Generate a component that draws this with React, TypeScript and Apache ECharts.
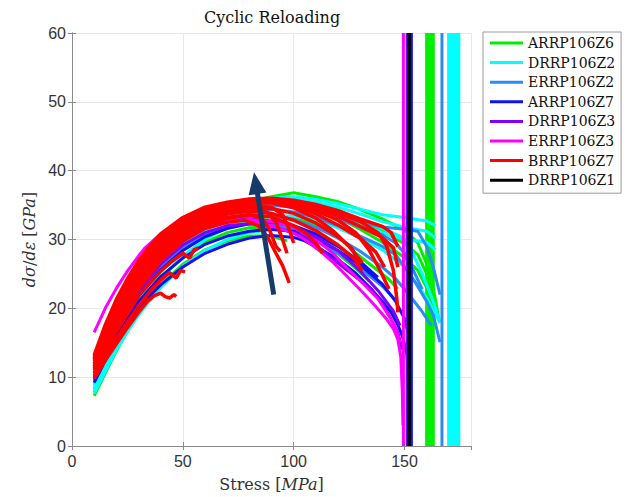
import React, { useEffect, useRef } from 'react';
import * as echarts from 'echarts';

// ---------- data ----------
const specimenNames = ['ARRP106Z6', 'DRRP106Z2', 'ERRP106Z2', 'ARRP106Z7', 'DRRP106Z3', 'ERRP106Z3', 'BRRP106Z7', 'DRRP106Z1'];
const xTickValues = [0, 50, 100, 150];
const yTickValues = [0, 10, 20, 30, 40, 50, 60];

// reload curves [stress MPa, dσ/dε GPa]
const curvesARRP106Z6 = [
  [[10,7.3],[15,10.6],[20,13.8],[25,16.7],[30,19.3],[35,21.5],[40,23.4],[50,26.4],[60,28.5],[70,29.8],[80,30.5],[90,30.5],[97,29.8]],
  [[10,7.8],[15,11.2],[20,14.5],[30,20.3],[40,24.4],[50,27.5],[60,29.6],[70,31],[80,31.7],[90,31.8],[100,31.2],[110,29.8],[120,27.9],[128,25.8],[134,24]],
  [[10,8.3],[20,15.3],[30,21.2],[40,25.3],[50,28.4],[60,30.5],[70,32],[80,32.9],[90,33.3],[100,33.1],[110,32.2],[120,30.6],[128,28],[136,26],[143,24.2],[147,22.8]],
  [[10,8.8],[20,16],[30,22],[40,26.3],[50,29.5],[60,31.8],[70,33.4],[80,34.4],[90,35],[100,35],[110,34.4],[120,33.2],[130,31.5],[140,29.6],[150,27.4],[156,25.5],[160,23],[163,20]],
  [[10,9],[20,16.4],[30,22.5],[40,26.8],[50,30],[60,32.3],[70,33.9],[80,35],[90,35.6],[100,35.9],[110,35.3],[120,34.3],[130,32.8],[140,31.2],[150,29.4],[156,27.8],[160,25],[164,21]],
  [[10,9.3],[20,16.8],[30,22.9],[40,27.3],[50,30.5],[60,32.8],[70,34.4],[80,35.5],[90,36.2],[100,36.8],[110,36.2],[120,35.5],[128,34.6],[140,33],[150,31.4],[156,29.5],[160,26.5],[163,23],[165.5,18.4]],
];
const curvesDRRP106Z2 = [
  [[10,7.6],[15,10.8],[20,13.9],[25,16.6],[30,19],[35,21.1],[40,23],[50,26.1],[60,28.4],[70,30],[80,31],[90,31.4],[100,31.2],[110,30.4],[120,29],[126,27.6]],
  [[10,8.1],[20,14.6],[30,20.2],[40,24.3],[50,27.6],[60,30],[70,31.8],[80,32.9],[90,33.4],[100,33.4],[110,32.8],[120,31.7],[130,30.2],[140,28.5],[150,26],[153,24.7],[160,21.5],[166,17.9]],
  [[10,8.6],[20,15.3],[30,21],[40,25.3],[50,28.6],[60,31.2],[70,33],[80,34.1],[90,34.8],[100,35],[110,34.5],[120,33.5],[130,32.3],[140,31],[150,30],[160,29.6],[164,28.5]],
  [[10,8.8],[20,15.7],[30,21.4],[40,25.7],[50,29],[60,31.6],[70,33.4],[80,34.5],[90,35.1],[100,35.3],[110,34.9],[120,34],[130,32.9],[140,31.6],[148,30.5],[153,28.5],[158,25],[163,21],[166,18]],
  [[10,9],[20,16],[30,21.8],[40,26.2],[50,29.6],[60,32.2],[70,34],[80,35.1],[90,35.6],[100,35.8],[110,35.4],[120,34.7],[130,33.7],[140,32.6],[150,31.8],[160,31.2],[164,30.2]],
  [[10,9.5],[20,16.6],[30,22.5],[40,27],[50,30.3],[60,32.8],[70,34.5],[80,35.6],[90,36],[100,36.2],[110,35.8],[120,35.2],[130,34.4],[140,33.6],[150,33.2],[160,32.7],[164,32]],
];
const curvesERRP106Z2 = [
  [[10,9.9],[20,16.4],[30,21.8],[40,25.8],[50,28.8],[60,30.8],[70,31.9],[80,32.3],[90,32.2],[100,31.5],[110,30],[120,28],[130,25.8],[140,23.2],[146,21.2]],
  [[10,10.3],[20,17],[30,22.6],[40,26.7],[50,29.7],[60,31.7],[70,32.9],[80,33.4],[90,33.4],[100,32.9],[110,31.8],[120,30.2],[130,28.3],[140,26],[146,24.3],[152,22],[158,19.5],[162,17.5]],
  [[10,10.7],[20,17.5],[30,23.2],[40,27.4],[50,30.4],[60,32.4],[70,33.7],[80,34.3],[90,34.4],[100,34],[110,33.2],[120,32],[130,30.5],[140,29],[146,27.8],[150,26],[155,23.7],[160,21],[163,19],[166,15.1]],
  [[10,11.1],[20,18],[30,23.7],[40,28],[50,31],[60,33],[70,34.2],[80,34.8],[90,35],[100,34.7],[110,34],[120,33],[130,31.8],[140,30.7],[146,29.5],[150,28],[154,25.5],[158,22.8]],
  [[10,11.4],[20,18.4],[30,24],[40,28.3],[50,31.3],[60,33.3],[70,34.5],[80,35.1],[90,35.3],[100,35.1],[110,34.5],[120,33.6],[130,32.6],[140,31.8],[150,31.5],[156,31.2],[160,29],[163,26],[166,22]],
];
const curvesARRP106Z7 = [
  [[10,9.2],[15,12.4],[20,15.2],[25,17.7],[30,19.9],[35,21.8],[40,23.4],[50,26],[60,28],[70,29.3],[80,30.2],[90,30.6],[100,30.3],[105,29.8],[112,28.6],[120,27.1],[128,25.1],[135,22.8],[140,21],[144,19.4],[147,17.6],[149,16],[151,13.5],[152.5,9]],
  [[10,9.6],[20,16],[30,21],[40,24.6],[50,27.3],[60,29.3],[70,30.5],[80,31.2],[90,31.5],[100,31.2],[110,30.1],[120,28.4],[130,26.3],[140,23.5],[146,21],[150,18.5],[152,16]],
  [[10,10],[20,16.6],[30,21.8],[40,25.6],[50,28.4],[60,30.4],[70,31.6],[80,32.3],[90,32.5],[100,32],[110,30.8],[120,29],[130,26.8],[138,24.5]],
];
const curvesDRRP106Z3 = [
  [[10,10.2],[20,17],[30,22.4],[40,26.4],[50,29.2],[60,31],[70,32],[80,32.3],[90,32],[100,31],[108,29.8],[116,27.6],[125,25.3],[135,22.8],[140,20.7],[144,18.4],[147,16.5],[149,14]],
  [[10,10.6],[20,17.5],[30,23],[40,27],[50,29.9],[60,31.7],[70,32.7],[80,33],[90,32.7],[100,31.9],[110,30.4],[120,28.4],[129.5,25.6],[138,22.6],[145,19.6],[148,17.5]],
];
const curvesERRP106Z3 = [
  [[10,12.3],[20,19.2],[30,24.3],[40,27.8],[50,30.3],[60,31.8],[70,32.6],[80,32.9],[90,32.6],[100,31.8],[104,31],[112,29.5],[118,27.9],[124,25.9],[132,23.4],[138,21.4],[143,18.9],[146,17.3],[148,15]],
  [[10,16.5],[15,20],[20,22.9],[25,25.4],[30,27.6],[33,28.8],[40,30.8],[50,32.2],[60,32.8],[70,33],[80,32.7],[90,32],[100,30.9],[105,30],[112,28.3],[118,26.6],[123,25],[130,22.7],[135,21],[138,19.9],[142,18.4],[145,17],[147,15.5],[148.3,13],[149,8],[149.3,3]],
];
const curvesBRRP106Z7 = [
  [[10,9.8],[15,12.4],[20,14.8],[25,17.2],[30,19.4],[34,21],[37,21.8],[40,22.2],[42,21.7],[44,21.5],[46,22],[47,21.7]],
  [[10,10.2],[15,13],[20,15.6],[25,18],[30,20.3],[35,22.4],[40,24.1],[44,25.2],[47,24.4],[49,25.5],[51,25.3]],
  [[10,10.6],[20,16.6],[30,21.8],[40,25.4],[45,26.8],[50,28],[53,27.3],[55,28.5],[57,28.8]],
  [[10,11],[20,17.4],[30,22.8],[40,26.9],[50,29.8],[60,31.6],[70,32.5],[78,32.8],[84,32],[88,30.5],[92,28],[95,26.2],[98,23.7]],
  [[10,11.2],[20,17.8],[30,23.2],[40,27.3],[50,30.2],[60,32],[70,33.1],[80,33.6],[90,33.3],[100,32],[106,30.8],[110,29.5],[113,28]],
  [[10,11.3],[20,17.9],[30,23.4],[40,27.5],[50,30.4],[60,32.2],[70,33.2],[80,33.6],[86,33],[89,31.5],[92,29],[94,28.3]],
  [[10,11.5],[20,18.2],[30,23.8],[40,27.9],[50,30.8],[60,32.6],[70,33.7],[80,34.1],[90,33.8],[100,32.8],[110,31.3],[120,29.2],[127,27.3],[131,25.5]],
  [[10,11.6],[20,18.4],[30,24],[40,28.1],[50,31],[60,32.8],[70,33.8],[80,34.2],[88,34],[92,32.5],[95,30],[97,28]],
  [[10,11.8],[20,18.7],[30,24.3],[40,28.4],[50,31.3],[60,33.1],[70,34.1],[80,34.6],[90,34.5],[100,33.8],[110,32.4],[120,30.4],[126,28.8],[130,26.5]],
  [[10,12],[20,18.9],[30,24.5],[40,28.7],[50,31.6],[60,33.4],[70,34.4],[80,34.9],[90,34.7],[95,33.6],[98,31.5],[100,29.5]],
  [[10,12.3],[20,19.4],[30,25],[40,29.2],[50,32],[60,33.8],[70,34.8],[80,35.3],[90,35.3],[100,34.6],[110,33.1],[118,31.2],[125,29],[131,26.6]],
  [[10,12.5],[20,19.8],[30,25.3],[40,29.5],[50,32.3],[60,34],[70,35],[80,35.5],[90,35.5],[100,34.9],[110,33.7],[120,32.1],[130,30.2],[137,28.2],[141,26]],
  [[10,12.6],[20,20.1],[30,25.7],[40,29.9],[50,32.6],[60,34.2],[70,35.1],[80,35.6],[90,35.6],[100,35.1],[110,34.2],[120,32.8],[128,31],[134,28.5],[139,25.5],[143,22.8]],
  [[10,12.8],[20,20.6],[30,26.2],[40,30.2],[50,32.9],[60,34.4],[70,35.2],[80,35.7],[90,35.8],[100,35.4],[110,34.6],[120,33.4],[130,31.9],[140,30.3],[145,28.8],[147,26]],
  [[10,12.9],[20,20.9],[30,26.5],[40,30.5],[50,33],[60,34.5],[70,35.3],[80,35.8],[90,35.9],[100,35.6],[110,34.9],[120,33.9],[130,32.6],[138,31],[142,29],[145,25.5],[146.5,21.5],[147,19.4]],
  [[10,13.2],[15,17.6],[20,21.3],[25,24.3],[30,26.9],[35,29],[40,30.8],[50,33.2],[60,34.7],[70,35.4],[80,35.9],[90,36],[100,35.7],[110,35.1],[120,34.2],[130,33],[140,31.9],[144,31],[147,29]],
];
const curvesDRRP106Z1: number[][][] = [];

// final vertical rises: [stress, from, to]
const vertARRP106Z6 = [[160,0,60],[160.5,0,60],[160.9,0,60],[161.4,0,57],[161.6,0,57],[162,0,60],[162.5,0,60],[163,0,60]];
const vertDRRP106Z2 = [[169.9,0,60],[170.5,0,60],[171.1,0,60],[171.7,0,60],[172.3,0,60],[172.9,0,60],[173.5,0,60],[174.1,0,60],[174.5,0,60]];
const vertERRP106Z2 = [[166.9,0,60]];
const vertARRP106Z7 = [[153.1,0,60]];
const vertDRRP106Z3 = [[151.2,0,60]];
const vertERRP106Z3 = [[149.5,0,60]];
const vertBRRP106Z7: number[][] = [];
const vertDRRP106Z1 = [[151.7,0,60],[152.3,0,60]];

const arrowStart = [91, 22];
const arrowEnd = [82.9, 38.2];

// ---------- styles ----------
const colors = ['#00ee00', '#00ffff', '#2a8cf2', '#1010f0', '#8000ff', '#ff00ff', '#ff0000', '#000000'];
const widths = [3, 3, 3, 3, 3, 3, 3.5, 2.5];

const App: React.FC = () => {
  const ref = useRef<HTMLDivElement>(null);
  useEffect(() => {
    document.body.style.margin = '0';
    if (!ref.current) return;
    const chart = echarts.init(ref.current, undefined, { renderer: 'svg' });
    const allCurves = [curvesARRP106Z6, curvesDRRP106Z2, curvesERRP106Z2, curvesARRP106Z7, curvesDRRP106Z3, curvesERRP106Z3, curvesBRRP106Z7, curvesDRRP106Z1];
    const allVerts = [vertARRP106Z6, vertDRRP106Z2, vertERRP106Z2, vertARRP106Z7, vertDRRP106Z3, vertERRP106Z3, vertBRRP106Z7, vertDRRP106Z1];
    const series: any[] = [];
    specimenNames.forEach((name, i) => {
      const color = colors[i];
      const segs = [
        ...allCurves[i],
        ...allVerts[i].map(([x, y0, y1]) => [[x, y0], [x, y1]]),
      ];
      segs.forEach((seg) => {
        series.push({
          type: 'line', name, data: seg, showSymbol: false, symbol: 'none',
          lineStyle: { color, width: widths[i] }, itemStyle: { color },
          emphasis: { disabled: true }, silent: true, clip: true,
        });
      });
    });
    series.push({
      type: 'line', name: 'arrow', data: [], silent: true,
      markLine: {
        silent: true, symbol: ['none', 'triangle'], symbolSize: [18, 22],
        label: { show: false }, emphasis: { disabled: true },
        lineStyle: { color: '#163a6b', width: 5, type: 'solid' },
        itemStyle: { color: '#163a6b' },
        data: [[{ coord: arrowStart }, { coord: arrowEnd }]],
      },
    });

    const axisColor = '#8a8a8a';
    const labelColor = '#333333';
    chart.setOption({
      animation: false,
      backgroundColor: '#ffffff',
      grid: { left: 72, top: 33, width: 399, height: 414, containLabel: false },
      graphic: [{
        type: 'text', x: 272, y: 17,
        style: { text: 'Cyclic Reloading', align: 'center', verticalAlign: 'middle', font: '16px "DejaVu Serif"', fill: '#111' },
      }],
      legend: {
        data: specimenNames.map((n) => ({ name: n, icon: 'rect' })),
        orient: 'vertical', left: 483, top: 32,
        itemWidth: 33, itemHeight: 3, itemGap: 3.6,
        padding: [3, 6, 5, 7],
        backgroundColor: '#ffffff', borderColor: '#9a9a9a', borderWidth: 1,
        selectedMode: false,
        textStyle: { fontFamily: 'DejaVu Serif', fontSize: 14, color: '#111', lineHeight: 16 },
      },
      xAxis: [{
        type: 'value', min: 0, max: 180, interval: 50, position: 'bottom',
        name: 'Stress [{i|MPa}]', nameLocation: 'middle', nameGap: 30,
        nameTextStyle: { fontFamily: 'DejaVu Serif', fontSize: 16, color: labelColor, rich: { i: { fontFamily: 'DejaVu Serif', fontStyle: 'italic', fontSize: 16, color: labelColor } } },
        axisLine: { show: true, lineStyle: { color: axisColor } },
        axisTick: { show: true, inside: true, length: 4, lineStyle: { color: axisColor } },
        axisLabel: { margin: 7, color: labelColor, fontFamily: 'Liberation Sans', fontSize: 16, showMaxLabel: false,
          formatter: (v: number) => (xTickValues.includes(v) ? String(v) : '') },
        splitLine: { show: true, lineStyle: { color: '#e8e8e8' } },
      }, {
        type: 'value', min: 0, max: 180, interval: 50, position: 'top',
        axisLine: { show: true, lineStyle: { color: axisColor } },
        axisTick: { show: true, inside: true, length: 4, lineStyle: { color: axisColor } },
        axisLabel: { show: false }, splitLine: { show: false },
      }],
      yAxis: [{
        type: 'value', min: 0, max: 60, interval: 10, position: 'left',
        name: '{i|dσ}/{i|dε} [{i|GPa}]', nameLocation: 'middle', nameGap: 29,
        nameTextStyle: { fontFamily: 'DejaVu Serif', fontSize: 16, color: labelColor, rich: { i: { fontFamily: 'DejaVu Serif', fontStyle: 'italic', fontSize: 16, color: labelColor } } },
        axisLine: { show: true, lineStyle: { color: axisColor } },
        axisTick: { show: true, inside: true, length: 4, lineStyle: { color: axisColor } },
        axisLabel: { margin: 6, color: labelColor, fontFamily: 'Liberation Sans', fontSize: 16,
          formatter: (v: number) => (yTickValues.includes(v) ? String(v) : '') },
        splitLine: { show: true, lineStyle: { color: '#e8e8e8' } },
      }, {
        type: 'value', min: 0, max: 60, interval: 10, position: 'right',
        axisLine: { show: true, lineStyle: { color: axisColor } },
        axisTick: { show: true, inside: true, length: 4, lineStyle: { color: axisColor } },
        axisLabel: { show: false }, splitLine: { show: false },
      }],
      series,
    });
    return () => chart.dispose();
  }, []);
  return <div ref={ref} style={{ width: 630, height: 497 }} />;
};

export default App;
